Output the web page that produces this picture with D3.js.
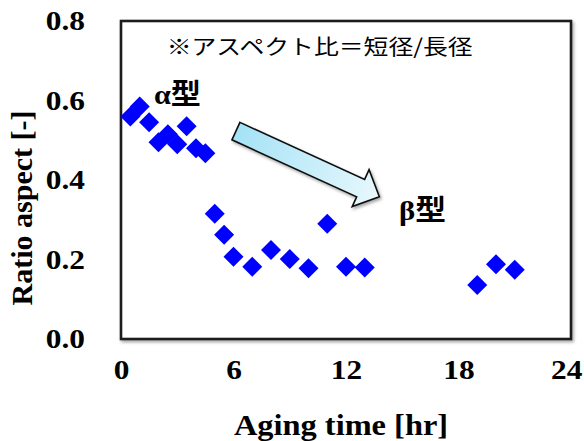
<!DOCTYPE html>
<html>
<head>
<meta charset="utf-8">
<script src="https://cdn.jsdelivr.net/npm/d3@7"></script>
<style>
  html, body { margin: 0; padding: 0; background: #fff; }
  svg { display: block; }
</style>
</head>
<body>
<svg id="chart" width="584" height="441"></svg>
<script>
// Aging time (hr) vs. aspect ratio (short / long diameter)
const agingHours = [0.5, 1, 1.5, 2, 2.5, 3, 3.5, 4, 4.5, 5, 5.5, 6, 7, 8, 9, 10, 11, 12, 13, 19, 20, 21];
const aspectRatio = [0.56, 0.585, 0.545, 0.495, 0.515, 0.49, 0.535, 0.48, 0.467, 0.315, 0.262, 0.207, 0.182, 0.224, 0.201, 0.178, 0.29, 0.182, 0.18, 0.136, 0.188, 0.174];

const xTicks = [0, 6, 12, 18, 24];
const yTicks = [0, 0.2, 0.4, 0.6, 0.8];

const xTitle = "Aging time [hr]";
const yTitle = "Ratio aspect [-]";
const noteText = "※アスペクト比＝短径/長径";
const alphaLabel = "α型";
const betaLabel = "β型";

// trend arrow from the α-type cluster toward the β-type region (data units)
const arrowFrom = [6.13, 0.523];
const arrowTo = [13.78, 0.358];

const W = 584;
const plot = { left: 121, top: 21, right: 571, bottom: 339 };
const stretch = 1.12;   // wide bold serif lettering

const svg = d3.select("#chart");

const x = d3.scaleLinear().domain([0, 24]).range([plot.left, plot.right]);
const y = d3.scaleLinear().domain([0, 0.8]).range([plot.bottom, plot.top]);

const defs = svg.append("defs");
const shadow = defs.append("filter").attr("id", "soft").attr("x", "-20%").attr("y", "-20%").attr("width", "140%").attr("height", "140%");
shadow.append("feDropShadow").attr("dx", 1.5).attr("dy", 2).attr("stdDeviation", 1.6)
  .attr("flood-color", "#000").attr("flood-opacity", 0.35);

const serif = "'Liberation Serif', 'Times New Roman', 'Noto Sans CJK JP', serif";

// plot frame
svg.append("rect")
  .attr("x", plot.left).attr("y", plot.top)
  .attr("width", plot.right - plot.left).attr("height", plot.bottom - plot.top)
  .attr("fill", "#fff").attr("stroke", "#1c1c1c").attr("stroke-width", 2.6)
  .attr("filter", "url(#soft)");

// axes (labels only, no tick marks)
const yPad = 36;
const xAxis = svg.append("g")
  .attr("transform", `translate(0,${plot.bottom})`)
  .call(d3.axisBottom(x).tickValues(xTicks).tickSize(0).tickPadding(20).tickFormat(d3.format("d")));
const yAxis = svg.append("g")
  .attr("transform", `translate(${plot.left},0)`)
  .call(d3.axisLeft(y).tickValues(yTicks).tickSize(0).tickPadding(yPad).tickFormat(d3.format(".1f")));
[xAxis, yAxis].forEach(g => {
  g.select(".domain").remove();
  g.selectAll("text")
    .attr("font-family", serif).attr("font-weight", "bold")
    .attr("font-size", 28).attr("fill", "#000")
    .attr("transform", `scale(${stretch},1)`);
});
yAxis.selectAll("text").attr("x", -yPad / stretch);

// keep the last x label inside the canvas
xAxis.selectAll(".tick").each(function (d) {
  const t = d3.select(this).select("text");
  const w = t.node().getBBox().width * stretch;
  const right = x(d) + w / 2;
  if (right > W - 2) t.attr("x", -(right - (W - 2)) / stretch);
});

// axis titles
svg.append("text")
  .attr("transform", `translate(341,435) scale(1.08,1)`)
  .attr("text-anchor", "middle")
  .attr("font-family", serif).attr("font-weight", "bold").attr("font-size", 30)
  .text(xTitle);
svg.append("text")
  .attr("transform", `translate(32,208) rotate(-90)`)
  .attr("text-anchor", "middle")
  .attr("font-family", serif).attr("font-weight", "bold").attr("font-size", 30)
  .text(yTitle);

// arrow
const p0 = [x(arrowFrom[0]), y(arrowFrom[1])];
const p1 = [x(arrowTo[0]), y(arrowTo[1])];
const dx = p1[0] - p0[0], dy = p1[1] - p0[1];
const len = Math.hypot(dx, dy);
const ux = dx / len, uy = dy / len;
const nx = -uy, ny = ux;
const shaftHalf = 9.6, headHalf = 20.3, headLen = 20.6;
const hb = [p1[0] - ux * headLen, p1[1] - uy * headLen];
const pt = (b, s) => [b[0] + nx * s, b[1] + ny * s];
const arrowPts = [
  pt(p0, -shaftHalf), pt(hb, -shaftHalf), pt(hb, -headHalf), p1,
  pt(hb, headHalf), pt(hb, shaftHalf), pt(p0, shaftHalf)
];
const grad = defs.append("linearGradient").attr("id", "arrowFill")
  .attr("gradientUnits", "userSpaceOnUse")
  .attr("x1", p0[0]).attr("y1", p0[1]).attr("x2", p1[0]).attr("y2", p1[1]);
grad.append("stop").attr("offset", "0%").attr("stop-color", "#a4e2f6");
grad.append("stop").attr("offset", "100%").attr("stop-color", "#e8f8fd");
svg.append("path")
  .attr("d", d3.line()(arrowPts) + "Z")
  .attr("fill", "url(#arrowFill)").attr("stroke", "#111").attr("stroke-width", 1.6)
  .attr("stroke-linejoin", "miter")
  .attr("filter", "url(#soft)");

// data points: blue diamonds
const diamond = d3.symbol().type(d3.symbolSquare).size(200);
svg.append("g").selectAll("path")
  .data(agingHours.map((h, i) => ({ h, r: aspectRatio[i] })))
  .join("path")
  .attr("d", diamond)
  .attr("transform", d => `translate(${x(d.h)},${y(d.r)}) rotate(45)`)
  .attr("fill", "#0000ff");

// annotations
svg.append("text")
  .attr("x", 166.7).attr("y", 54)
  .attr("font-family", "'Noto Sans CJK JP', sans-serif").attr("font-size", 21)
  .attr("textLength", 306).attr("lengthAdjust", "spacingAndGlyphs")
  .text(noteText);
svg.append("text")
  .attr("x", 154).attr("y", 104)
  .attr("font-family", serif).attr("font-weight", "bold").attr("font-size", 28)
  .attr("textLength", 47).attr("lengthAdjust", "spacingAndGlyphs")
  .text(alphaLabel);
svg.append("text")
  .attr("x", 399).attr("y", 220)
  .attr("font-family", serif).attr("font-weight", "bold").attr("font-size", 28)
  .attr("textLength", 47).attr("lengthAdjust", "spacingAndGlyphs")
  .text(betaLabel);
</script>
</body>
</html>
